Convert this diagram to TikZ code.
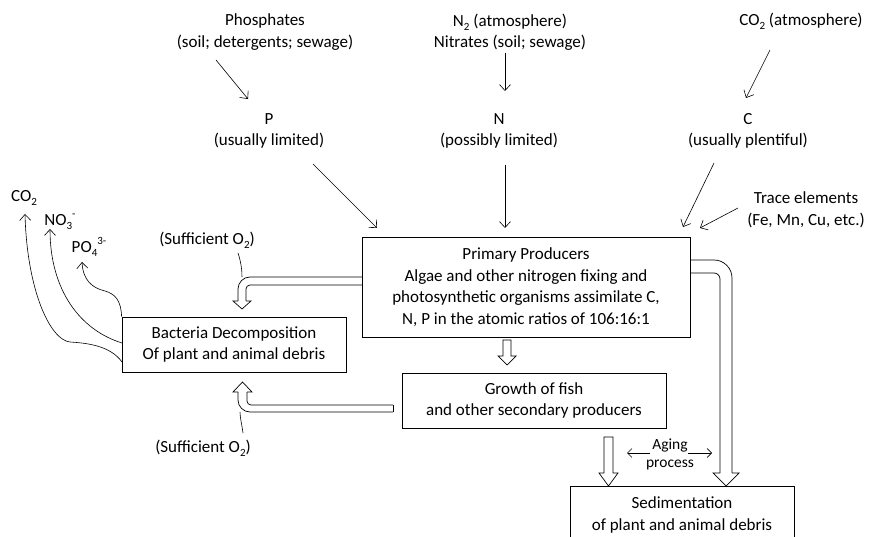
\documentclass[tikz,border=0pt]{standalone}
\usepackage{fontspec}
\setmainfont{Carlito}
\usetikzlibrary{arrows.meta}
\newcommand\mysub[1]{\raisebox{-0.5ex}{\fontsize{11}{11}\selectfont #1}}
\newcommand\mysup[1]{\raisebox{0.95ex}{\fontsize{11}{11}\selectfont #1}}
\begin{document}
\begin{tikzpicture}[x=1pt,y=-1pt,
  txt/.style={font=\fontsize{17}{21.5}\selectfont, align=center, inner sep=0pt},
  small/.style={font=\fontsize{15.5}{18}\selectfont, align=center, inner sep=0pt},
  box/.style={draw, line width=0.8pt, txt},
  arr/.style={-{Straight Barb[length=6pt,width=11pt]}, line width=0.6pt},
  sarr/.style={-{Straight Barb[length=4.5pt,width=9pt]}, line width=0.6pt},
  hl/.style={line width=0.7pt},
  thin/.style={line width=0.6pt}]
\clip (0,0) rectangle (873,537);
\fill[white] (0,0) rectangle (873,537);

% boxes
\node[box, minimum width=328pt, minimum height=100pt] (prim) at (526,287)
  {Primary Producers\\Algae and other nitrogen fixing and\\photosynthetic organisms assimilate C,\\N, P in the atomic ratios of 106:16:1};
\node[box, minimum width=224pt, minimum height=55pt] (bact) at (234,344.5)
  {Bacteria Decomposition\\Of plant and animal debris};
\node[box, minimum width=264pt, minimum height=55pt] (grow) at (534,400.5)
  {Growth of fish\\and other secondary producers};
\node[box, minimum width=224pt, minimum height=58pt] (sed) at (682,515)
  {Sedimentation\\of plant and animal debris};

% texts
\node[txt] (phos) at (265,32) {Phosphates\\(soil; detergents; sewage)};
\node[txt] (pn) at (269,131) {P\\(usually limited)};
\node[txt] (nsrc) at (510,32) {N\mysub{2} (atmosphere)\\Nitrates (soil; sewage)};
\node[txt] (nn) at (499,131) {N\\(possibly limited)};
\node[txt] (csrc) at (801,21) {CO\mysub{2} (atmosphere)};
\node[txt] (cn) at (748,131) {C\\(usually plentiful)};
\node[txt] (trace) at (806,210) {Trace elements\\(Fe, Mn, Cu, etc.)};
\node[txt] (o2a) at (207,240) {(Sufficient O\mysub{2})};
\node[txt] (o2b) at (203,448) {(Sufficient O\mysub{2})};
\node[txt] (co2) at (24,198) {CO\mysub{2}};
\node[txt] (no3) at (60,222) {NO\mysub{3}\mysup{-}};
\node[txt] (po4) at (89,247) {PO\mysub{4}\mysup{3-}};
\node[small] (aging) at (670,454) {Aging\\process};

% thin arrow endpoints
\coordinate (a1s) at (216,60);  \coordinate (a1e) at (248,99);
\coordinate (a2s) at (313,164); \coordinate (a2e) at (377,228);
\coordinate (a3s) at (505,53);  \coordinate (a3e) at (505,91);
\coordinate (a4s) at (505,165); \coordinate (a4e) at (505,228);
\coordinate (a5s) at (770,50);  \coordinate (a5e) at (746,98);
\coordinate (a6s) at (714,163); \coordinate (a6e) at (683,227);
\coordinate (a7s) at (738,208); \coordinate (a7e) at (700,228);
\draw[arr] (a1s) -- (a1e);
\draw[arr] (a2s) -- (a2e);
\draw[arr] (a3s) -- (a3e);
\draw[arr] (a4s) -- (a4e);
\draw[arr] (a5s) -- (a5e);
\draw[arr] (a6s) -- (a6e);
\draw[arr] (a7s) -- (a7e);

% aging arrows
\coordinate (g1s) at (650,453); \coordinate (g1e) at (627,453);
\coordinate (g2s) at (688,453); \coordinate (g2e) at (712,453);
\draw[sarr] (g1s) -- (g1e);
\draw[sarr] (g2s) -- (g2e);

% products from bacteria
\coordinate (t1) at (25,214); \coordinate (t2) at (50,229); \coordinate (t3) at (82,262);
\draw[arr] (122,362) .. controls (110,345) and (85,343) .. (70,342) .. controls (50,340) and (27,290) .. (t1);
\draw[arr] (122,343) .. controls (80,330) and (50,290) .. (t2);
\draw[arr] (bact.north west) .. controls (121,300) and (115,294) .. (105,291) .. controls (92,288) and (83,280) .. (t3);

% hollow arrow: primary -> bacteria
\draw[hl, rounded corners=12pt] (362,277) -- (238,277) -- (238,301);
\draw[hl, rounded corners=4pt] (362,285) -- (246,285) -- (246,301);
\draw[hl] (238,301) -- (233,301) -- (242,309) -- (251,301) -- (246,301);
% sufficient O2 upper
\draw[thin] (238,253) .. controls (241,262) and (242,270) .. (242,277);

% hollow arrow: primary -> growth
\draw[hl] (503,340) -- (511,340) -- (511,356) -- (516,356) -- (507,365) -- (498,356) -- (503,356) -- cycle;

% hollow arrow: primary -> sedimentation
\draw[hl, rounded corners=18pt] (690,260) -- (732,260) -- (732,473);
\draw[hl, rounded corners=6pt] (690,273) -- (720,273) -- (720,473);
\draw[hl] (732,473) -- (739,473) -- (726,486) -- (713,473) -- (720,473);

% hollow arrow: growth -> sedimentation
\draw[hl] (604,437) -- (613,437) -- (613,473) -- (618,473) -- (608.5,486) -- (599,473) -- (604,473) -- cycle;

% hollow arrow: growth -> bacteria
\draw[hl, rounded corners=12pt] (393,412) -- (238,412) -- (238,392);
\draw[hl, rounded corners=4pt] (393,405) -- (247,405) -- (247,392);
\draw[hl] (393,405) -- (393,412);
\draw[hl] (238,392) -- (233,392) -- (242.5,382) -- (252,392) -- (247,392);
% sufficient O2 lower
\draw[thin] (243,433) .. controls (242,425) and (240,418) .. (240,412);
\end{tikzpicture}
\end{document}
